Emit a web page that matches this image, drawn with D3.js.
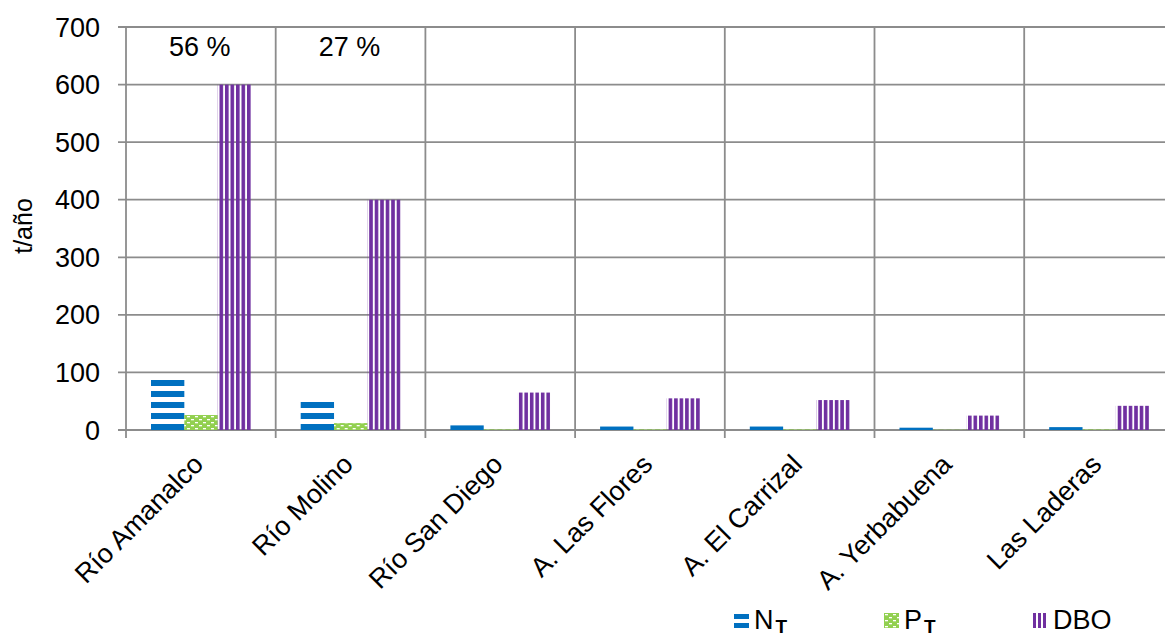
<!DOCTYPE html>
<html>
<head>
<meta charset="utf-8">
<script src="https://cdn.jsdelivr.net/npm/d3@7"></script>
<style>
  body { margin: 0; background: #fff; }
  text { font-family: "Liberation Sans", Arial, sans-serif; fill: #000; }
</style>
</head>
<body>
<svg id="chart" width="1165" height="637"></svg>
<script>
// Cargas anuales por afluente (t/año)
const categories = ["Río Amanalco", "Río Molino", "Río San Diego", "A. Las Flores", "A. El Carrizal", "A. Yerbabuena", "Las Laderas"];
const seriesKeys = ["NT", "PT", "DBO"];
const nitrogen = [88, 50, 8, 6, 6, 4, 5];
const phosphorus = [26, 12, 1, 1, 1, 0.5, 1];
const dbo = [600, 400, 65, 55, 52, 25, 42];
const shareLabels = ["56 %", "27 %", "", "", "", "", ""];
const yTicks = [0, 100, 200, 300, 400, 500, 600, 700];

const values = { NT: nitrogen, PT: phosphorus, DBO: dbo };

const svg = d3.select("#chart");
const plotLeft = 126, plotTop = 27, plotBottom = 430;
const catStep = 149.7;
const plotRight = plotLeft + catStep * categories.length;
const fontSize = 27;

const x0 = d3.scaleBand().domain(categories).range([plotLeft, plotRight]).padding(0);
const x1 = d3.scaleBand().domain(seriesKeys).range([25, 125]).padding(0);
const y = d3.scaleLinear().domain([0, 700]).range([plotBottom, plotTop]);

// Patterns for the fills
const defs = svg.append("defs");
const pN = defs.append("pattern").attr("id", "patN").attr("patternUnits", "userSpaceOnUse")
  .attr("width", 20).attr("height", 11).attr("y", plotBottom);
pN.append("rect").attr("x", 0).attr("y", 5).attr("width", 20).attr("height", 6).attr("fill", "#0070C0");

const pP = defs.append("pattern").attr("id", "patP").attr("patternUnits", "userSpaceOnUse")
  .attr("width", 8).attr("height", 6).attr("y", plotBottom);
pP.append("rect").attr("width", 8).attr("height", 6).attr("fill", "#92D050");
pP.append("rect").attr("x", 1).attr("y", 1).attr("width", 3).attr("height", 1.3).attr("fill", "#fff");
pP.append("rect").attr("x", 5).attr("y", 4).attr("width", 3).attr("height", 1.3).attr("fill", "#fff");

const pD = defs.append("pattern").attr("id", "patD").attr("patternUnits", "userSpaceOnUse")
  .attr("width", 5.5).attr("height", 10);
pD.append("rect").attr("x", 0).attr("y", 0).attr("width", 3.6).attr("height", 10).attr("fill", "#7030A0");

const fills = { NT: "url(#patN)", PT: "url(#patP)", DBO: "url(#patD)" };

// Gridlines
const gridColor = "#8c8c8c";
svg.append("g").selectAll("line").data(yTicks).join("line")
  .attr("x1", plotLeft - 8).attr("x2", 1165)
  .attr("y1", d => y(d)).attr("y2", d => y(d))
  .attr("stroke", gridColor).attr("stroke-width", 1.8);

const bounds = d3.range(categories.length + 1).map(i => plotLeft + i * x0.step());
svg.append("g").selectAll("line").data(bounds).join("line")
  .attr("x1", d => d).attr("x2", d => d)
  .attr("y1", plotTop).attr("y2", plotBottom + 8)
  .attr("stroke", gridColor).attr("stroke-width", 1.8);

// Y tick labels
svg.append("g").selectAll("text").data(yTicks).join("text")
  .attr("x", 100).attr("y", d => y(d) + 9.5)
  .attr("text-anchor", "end").attr("font-size", fontSize)
  .text(d => d);

// Y axis title
svg.append("text")
  .attr("transform", "translate(32,226) rotate(-90)")
  .attr("text-anchor", "middle").attr("font-size", 25)
  .text("t/año");

// Bars
const groups = svg.append("g").selectAll("g").data(categories).join("g")
  .attr("transform", d => `translate(${x0(d)},0)`);
groups.selectAll("rect")
  .data((c, i) => seriesKeys.map(k => ({ key: k, value: values[k][i] })))
  .join("rect")
  .attr("x", d => x1(d.key))
  .attr("y", d => y(d.value))
  .attr("width", x1.bandwidth())
  .attr("height", d => plotBottom - y(d.value))
  .attr("fill", d => fills[d.key]);

// Share labels
svg.append("g").selectAll("text").data(categories).join("text")
  .attr("x", (d) => x0(d) + x0.bandwidth() / 2 - 1)
  .attr("y", 56)
  .attr("text-anchor", "middle").attr("font-size", fontSize)
  .text((d, i) => shareLabels[i]);

// Category labels
svg.append("g").selectAll("text").data(categories).join("text")
  .attr("transform", d => `translate(${x0(d) + x0.bandwidth() / 2 + 4},466) rotate(-45)`)
  .attr("text-anchor", "end").attr("font-size", fontSize)
  .text(d => d);

// Legend
const legendItems = [
  { key: "NT", x: 734, main: "N", sub: "T" },
  { key: "PT", x: 884, main: "P", sub: "T" },
  { key: "DBO", x: 1033, main: "DBO", sub: "" }
];
const lg = svg.append("g");
legendItems.forEach(it => {
  if (it.key === "NT") {
    lg.append("rect").attr("x", it.x).attr("y", 614).attr("width", 15).attr("height", 5).attr("fill", "#0070C0");
    lg.append("rect").attr("x", it.x).attr("y", 623).attr("width", 15).attr("height", 5).attr("fill", "#0070C0");
  } else if (it.key === "PT") {
    lg.append("rect").attr("x", it.x).attr("y", 613).attr("width", 15).attr("height", 15).attr("fill", "url(#patP)");
  } else {
    [0, 5, 10].forEach(o => lg.append("rect").attr("x", it.x + o).attr("y", 613).attr("width", 3).attr("height", 15).attr("fill", "#7030A0"));
  }
  const t = lg.append("text").attr("x", it.x + 20).attr("y", 629).attr("font-size", fontSize);
  t.append("tspan").text(it.main);
  if (it.sub) {
    t.append("tspan").attr("dx", 2).attr("dy", 4).attr("font-weight", "bold").attr("font-size", 19).text(it.sub);
  }
});
</script>
</body>
</html>
